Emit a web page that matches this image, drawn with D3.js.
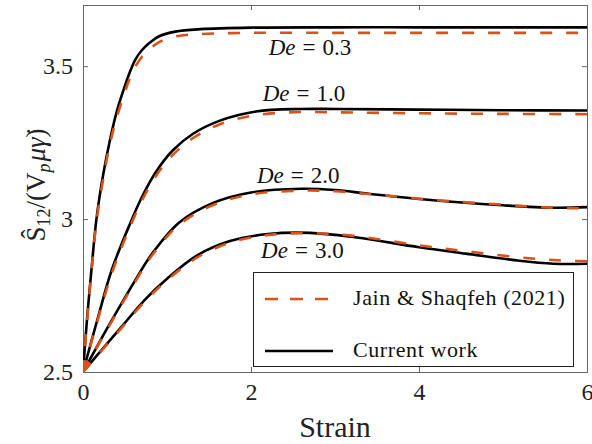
<!DOCTYPE html>
<html>
<head>
<meta charset="utf-8">
<script src="https://cdn.jsdelivr.net/npm/d3@7"></script>
<style>
  body { margin: 0; background: #fff; }
  svg { font-family: "Liberation Serif", "DejaVu Serif", serif; }
</style>
</head>
<body>
<svg id="chart" width="592" height="444"></svg>
<script>
// strain samples and S12 values
const strainA = [0, 0.05, 0.1, 0.16, 0.24, 0.32, 0.4, 0.48, 0.55, 0.62, 0.7, 0.8, 0.9, 1.1, 1.4, 2, 3, 4, 5, 6];
const de03Current = [2.5, 2.68, 2.832, 3.0, 3.145, 3.257, 3.35, 3.42, 3.475, 3.52, 3.552, 3.578, 3.597, 3.613, 3.621, 3.626, 3.627, 3.627, 3.627, 3.627];
const de03Jain    = [2.5, 2.67, 2.825, 2.99, 3.13, 3.245, 3.33, 3.40, 3.455, 3.497, 3.53, 3.557, 3.578, 3.597, 3.605, 3.609, 3.609, 3.609, 3.609, 3.609];

const strainB = [0, 0.17, 0.34, 0.56, 0.71, 0.87, 1.07, 1.31, 1.63, 2.06, 2.6, 3, 4, 5, 6];
const de10Current = [2.5, 2.67, 2.832, 2.985, 3.077, 3.155, 3.225, 3.279, 3.322, 3.352, 3.36, 3.36, 3.358, 3.356, 3.355];
const de10Jain    = [2.5, 2.665, 2.82, 2.975, 3.065, 3.142, 3.21, 3.265, 3.31, 3.34, 3.35, 3.349, 3.346, 3.344, 3.343];

const strainC = [0, 0.17, 0.34, 0.6, 0.83, 1.15, 1.55, 2.0, 2.6, 3.0, 3.4, 4.2, 5.0, 5.6, 6];
const de20Current = [2.5, 2.585, 2.668, 2.79, 2.89, 2.99, 3.053, 3.087, 3.099, 3.095, 3.083, 3.061, 3.045, 3.037, 3.039];
const de20Jain    = [2.5, 2.583, 2.664, 2.785, 2.884, 2.983, 3.046, 3.081, 3.093, 3.091, 3.082, 3.062, 3.047, 3.037, 3.035];

const strainD = [0, 0.2, 0.44, 0.75, 1.0, 1.35, 1.75, 2.2, 2.7, 3.2, 4.0, 4.56, 5.16, 5.6, 6];
const de30Current = [2.5, 2.565, 2.642, 2.74, 2.805, 2.88, 2.928, 2.951, 2.955, 2.942, 2.908, 2.887, 2.865, 2.854, 2.854];
const de30Jain    = [2.5, 2.563, 2.638, 2.735, 2.8, 2.873, 2.923, 2.948, 2.954, 2.946, 2.914, 2.895, 2.876, 2.866, 2.862];

const deLabels = ["0.3", "1.0", "2.0", "3.0"];
const deLabelStrain = [2.21, 2.14, 2.07, 2.12];
const deLabelValue = [3.535, 3.386, 3.117, 2.872];

const xTicks = [0, 2, 4, 6];
const yTicks = [2.5, 3, 3.5];
const legendNames = ["Jain & Shaqfeh (2021)", "Current work"];

const series = [
  { x: strainA, cur: de03Current, jain: de03Jain },
  { x: strainB, cur: de10Current, jain: de10Jain },
  { x: strainC, cur: de20Current, jain: de20Jain },
  { x: strainD, cur: de30Current, jain: de30Jain }
];

const svg = d3.select('#chart');
const margin = { top: 5, left: 83 };
const innerW = 587 - margin.left;
const innerH = 372 - margin.top;
const orange = '#D95319';

const xScale = d3.scaleLinear().domain([0, 6]).range([0, innerW]);
const yScale = d3.scaleLinear().domain([2.5, 3.7]).range([innerH, 0]);

const g = svg.append('g').attr('transform', `translate(${margin.left},${margin.top})`);

g.append('clipPath').attr('id', 'clip')
  .append('rect').attr('width', innerW).attr('height', innerH);

// axes with inward ticks on all four sides
const xAxis = d3.axisBottom(xScale).tickValues(xTicks).tickSize(-5).tickPadding(11).tickFormat(d3.format('d'));
const yAxis = d3.axisLeft(yScale).tickValues(yTicks).tickSize(-5).tickPadding(10).tickFormat(d => d === 3 ? '3' : d3.format('.1f')(d));
const xTop = d3.axisTop(xScale).tickValues(xTicks).tickSize(-5).tickFormat('');
const yRight = d3.axisRight(yScale).tickValues(yTicks).tickSize(-5).tickFormat('');

g.append('g').attr('transform', `translate(0,${innerH})`).call(xAxis);
g.append('g').call(yAxis);
g.append('g').call(xTop);
g.append('g').attr('transform', `translate(${innerW},0)`).call(yRight);

g.selectAll('.domain').attr('stroke', '#666').attr('stroke-width', 1);
g.selectAll('.tick line').attr('stroke', '#666');
g.selectAll('.tick text').attr('fill', '#222').style('font-size', '24px').style('font-family', '"Liberation Serif", serif');

const line = d3.line()
  .x(d => xScale(d[0]))
  .y(d => yScale(d[1]))
  .curve(d3.curveCatmullRom.alpha(0.5));

const plot = g.append('g').attr('clip-path', 'url(#clip)');

series.forEach(s => {
  plot.append('path')
    .datum(s.x.map((v, i) => [v, s.cur[i]]))
    .attr('d', line)
    .attr('fill', 'none')
    .attr('stroke', '#000')
    .attr('stroke-width', 2.6);
});
series.forEach(s => {
  plot.append('path')
    .datum(s.x.map((v, i) => [v, s.jain[i]]))
    .attr('d', line)
    .attr('fill', 'none')
    .attr('stroke', orange)
    .attr('stroke-width', 2.6)
    .attr('stroke-dasharray', '12,14');
});

// De annotations
deLabels.forEach((lab, i) => {
  const t = g.append('text')
    .attr('x', xScale(deLabelStrain[i]))
    .attr('y', yScale(deLabelValue[i]))
    .style('font-size', '23px')
    .attr('fill', '#111');
  t.append('tspan').style('font-style', 'italic').text('De');
  t.append('tspan').attr('dx', 7).text('=');
  t.append('tspan').attr('dx', 7).text(lab);
});

// legend
const leg = svg.append('g');
leg.append('rect')
  .attr('x', 253.5).attr('y', 272.5).attr('width', 320).attr('height', 94)
  .attr('fill', '#fff').attr('stroke', '#222').attr('stroke-width', 1);
leg.append('line')
  .attr('x1', 265).attr('x2', 331).attr('y1', 299).attr('y2', 299)
  .attr('stroke', orange).attr('stroke-width', 2.6).attr('stroke-dasharray', '13,12');
leg.append('line')
  .attr('x1', 265).attr('x2', 333).attr('y1', 351).attr('y2', 351)
  .attr('stroke', '#000').attr('stroke-width', 2.6);
leg.selectAll('text.lg')
  .data(legendNames)
  .enter()
  .append('text')
  .attr('class', 'lg')
  .attr('x', 353)
  .attr('y', (d, i) => i === 0 ? 305 : 357)
  .style('font-size', '22px')
  .style('letter-spacing', '0.6px')
  .attr('fill', '#111')
  .text(d => d);

// axis labels
svg.append('text')
  .attr('x', margin.left + innerW / 2)
  .attr('y', 437)
  .attr('text-anchor', 'middle')
  .style('font-size', '30px')
  .attr('fill', '#222')
  .text('Strain');

const yl = svg.append('text')
  .attr('transform', 'translate(45,185) rotate(-90)')
  .attr('text-anchor', 'middle')
  .style('font-size', '27px')
  .attr('fill', '#222');
yl.append('tspan').text('\u015C');
yl.append('tspan').attr('dy', 5).style('font-size', '18px').text('12');
yl.append('tspan').attr('dy', -5).text('/(V');
yl.append('tspan').attr('dy', 5).style('font-size', '18px').style('font-style', 'italic').text('p');
yl.append('tspan').attr('dy', -5).attr('dx', 2).style('font-style', 'italic').text('\u03BC\u03B3\u0307');
yl.append('tspan').text(')');
</script>
</body>
</html>
